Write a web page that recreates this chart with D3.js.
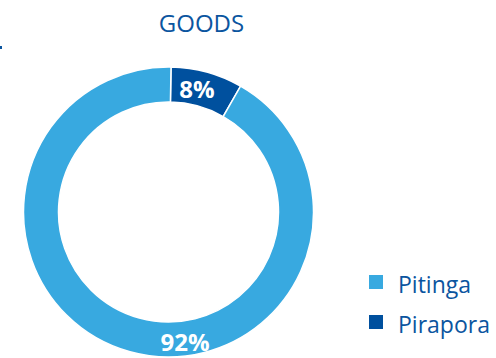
<!DOCTYPE html>
<html>
<head>
<meta charset="utf-8">
<script src="https://cdn.jsdelivr.net/npm/d3@7"></script>
<style>
  html, body { margin: 0; padding: 0; background: #fff; }
  svg { display: block; }
</style>
</head>
<body>
<svg id="chart" width="496" height="358"></svg>
<script>
// Share of goods by origin
const title = "GOODS";
const categories = ["Pirapora", "Pitinga"];
const shares = [8, 92];
const legendOrder = ["Pitinga", "Pirapora"];

const colors = { Pitinga: "#38a9e0", Pirapora: "#00509e" };
const textBlue = "#0b559f";

const svg = d3.select("#chart");
const cx = 168.5, cy = 212;
const rOuter = 145, rInner = 110;
const deg = Math.PI / 180;

// Title
svg.append("text")
  .attr("x", 201.5).attr("y", 32)
  .attr("text-anchor", "middle")
  .attr("font-family", "'Open Sans', sans-serif")
  .attr("font-size", 24)
  .attr("fill", textBlue)
  .text(title);

// small mark at the left edge
svg.append("rect")
  .attr("x", 0).attr("y", 46).attr("width", 2).attr("height", 3)
  .attr("fill", textBlue);

// Donut
const data = categories.map((c, i) => ({ name: c, value: shares[i] }));
const start = 1 * deg;
const pie = d3.pie().value(d => d.value).sort(null)
  .startAngle(start).endAngle(start + 2 * Math.PI);
const arc = d3.arc().innerRadius(rInner).outerRadius(rOuter);

const g = svg.append("g").attr("transform", `translate(${cx},${cy})`);
const arcs = pie(data);

g.selectAll("path.slice")
  .data(arcs)
  .join("path")
  .attr("class", "slice")
  .attr("d", arc)
  .attr("fill", d => colors[d.data.name])
  .attr("stroke", "#fff")
  .attr("stroke-width", 1.5);

// Value labels: placed inside the ring along a chosen angle
const labelAngle = { Pirapora: 13 * deg, Pitinga: 172.8 * deg };
const labelRadius = { Pirapora: 126, Pitinga: 131.5 };
g.selectAll("text.val")
  .data(arcs)
  .join("text")
  .attr("class", "val")
  .attr("x", d => labelRadius[d.data.name] * Math.sin(labelAngle[d.data.name]))
  .attr("y", d => -labelRadius[d.data.name] * Math.cos(labelAngle[d.data.name]))
  .attr("dy", "0.36em")
  .attr("text-anchor", "middle")
  .attr("font-family", "'Open Sans', sans-serif")
  .attr("font-weight", "bold")
  .attr("font-size", 24)
  .attr("fill", "#fff")
  .text(d => d.data.value + "%");

// Legend
const legend = svg.append("g");
const ly = d3.scalePoint().domain(legendOrder).range([282, 322]);
legendOrder.forEach(name => {
  legend.append("rect")
    .attr("x", 369).attr("y", ly(name) - 7)
    .attr("width", 14).attr("height", 14)
    .attr("fill", colors[name]);
  legend.append("text")
    .attr("x", 398).attr("y", ly(name) + 11)
    .attr("font-family", "'Open Sans', sans-serif")
    .attr("font-size", 23)
    .attr("fill", textBlue)
    .text(name);
});
</script>
</body>
</html>
